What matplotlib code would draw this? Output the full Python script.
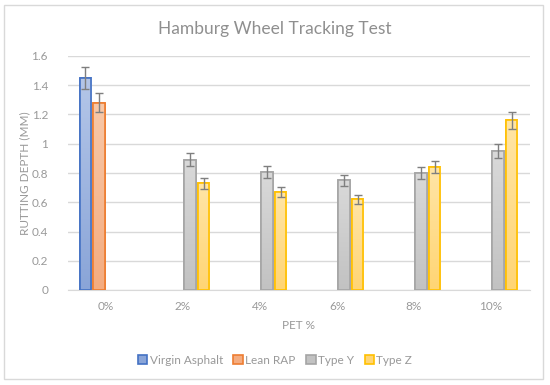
import matplotlib.pyplot as plt
import numpy as np
from matplotlib.colors import LinearSegmentedColormap
from matplotlib.patches import Rectangle

plt.rcParams['font.family'] = ['Lato', 'DejaVu Sans']

categories = ['0%', '2%', '4%', '6%', '8%', '10%']
series = ['Virgin Asphalt', 'Lean RAP', 'Type Y', 'Type Z']
# None = no bar in that slot
values = [
    [1.45, None, None, None, None, None],
    [1.28, None, None, None, None, None],
    [None, 0.89, 0.81, 0.75, 0.80, 0.95],
    [None, 0.73, 0.67, 0.62, 0.84, 1.16],
]
errors = [
    [0.073, None, None, None, None, None],
    [0.064, None, None, None, None, None],
    [None, 0.045, 0.041, 0.038, 0.040, 0.048],
    [None, 0.037, 0.034, 0.031, 0.042, 0.058],
]
edge_colors = ['#4472c4', '#ed7d31', '#a5a5a5', '#ffc000']
top_colors = ['#b4c6e8', '#f8c8a8', '#d9d9d9', '#ffe5a6']
bottom_colors = ['#8aa5d8', '#f4ac80', '#c2c2c2', '#ffd574']

text_gray = '#999999'
grid_gray = '#d9d9d9'

fig = plt.figure(figsize=(5.5, 3.85), dpi=100)
fig.patches.append(Rectangle((4 / 550, 1 - 379 / 385), 539 / 550, 374 / 385,
                             transform=fig.transFigure, fill=False,
                             edgecolor='#d9d9d9', linewidth=1.0))
ax = fig.add_axes([67.5 / 550, 1 - 290 / 385, 462 / 550, 234 / 385])

x = np.arange(len(categories))
width = 0.18
offsets = [-1.5, -0.5, 0.5, 1.5]
grad = np.linspace(0, 1, 100).reshape(-1, 1)

for i, name in enumerate(series):
    xs = [x[j] + offsets[i] * width for j, v in enumerate(values[i]) if v is not None]
    hs = [v for v in values[i] if v is not None]
    es = [e for e in errors[i] if e is not None]
    bars = ax.bar(xs, hs, width * 0.82, color=bottom_colors[i],
                  edgecolor=edge_colors[i], linewidth=1.2, label=name, zorder=3)
    cmap = LinearSegmentedColormap.from_list('g', [bottom_colors[i], top_colors[i]])
    for b in bars:
        im = ax.imshow(grad, cmap=cmap, origin='lower', aspect='auto',
                       extent=[b.get_x(), b.get_x() + b.get_width(), 0, b.get_height()],
                       zorder=3.5)
        im.set_clip_path(b)
        ax.add_patch(Rectangle((b.get_x(), 0), b.get_width(), b.get_height(),
                               fill=False, edgecolor=edge_colors[i], linewidth=1.2, zorder=4))
    ax.errorbar(xs, hs, yerr=es, fmt='none', ecolor='#7f7f7f', elinewidth=1.0,
                capsize=3, capthick=1.0, zorder=5)

ax.set_xlim(-0.5, len(categories) - 0.5)
ax.set_ylim(0, 1.6)
ax.set_yticks(np.arange(0, 1.61, 0.2))
ax.set_yticklabels(['0', '0.2', '0.4', '0.6', '0.8', '1', '1.2', '1.4', '1.6'])
ax.set_xticks(x)
ax.set_xticklabels(categories)
ax.tick_params(axis='both', length=0, colors=text_gray, labelsize=8.5)
ax.tick_params(axis='y', pad=14)
ax.tick_params(axis='x', pad=8)
ax.grid(axis='y', color=grid_gray, linewidth=1.0, zorder=0)
ax.set_axisbelow(True)
for s in ['left', 'right', 'top']:
    ax.spines[s].set_visible(False)
ax.spines['bottom'].set_color(grid_gray)

ax.set_ylabel('RUTTING DEPTH (MM)', color=text_gray, fontsize=8.5)
ax.yaxis.set_label_coords(-0.08, 0.5)
ax.set_xlabel('PET %', color=text_gray, fontsize=8.5, labelpad=6)
fig.text(0.5, 1 - 29 / 385, 'Hamburg Wheel Tracking Test', ha='center', va='center',
         color='#8f8f8f', fontsize=12.5)

handles, labels = ax.get_legend_handles_labels()
leg = fig.legend(handles, labels, loc='center', bbox_to_anchor=(0.5, 1 - 360 / 385),
                 ncol=4, frameon=False, fontsize=8.5, handlelength=0.8, handleheight=0.8,
                 handletextpad=0.2, columnspacing=0.9)
for t in leg.get_texts():
    t.set_color(text_gray)

fig.savefig('out.png', dpi=100)
